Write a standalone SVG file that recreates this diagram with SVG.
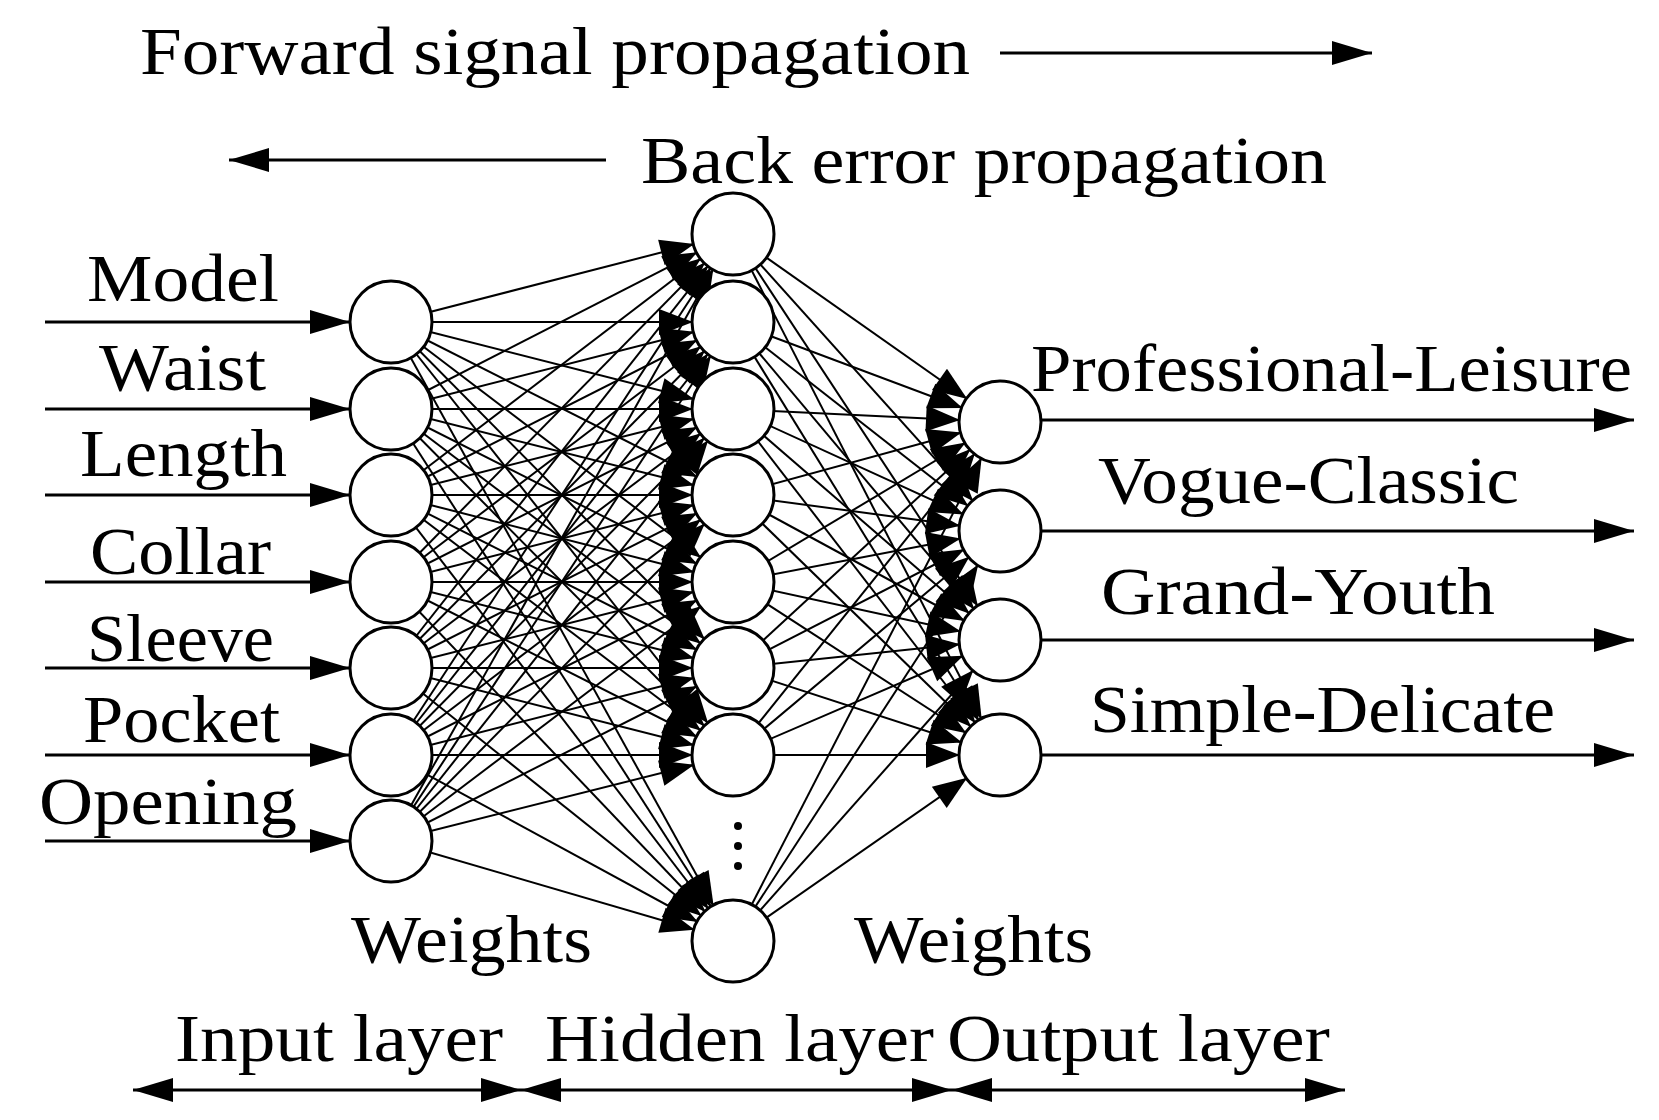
<svg xmlns="http://www.w3.org/2000/svg" width="1659" height="1120" viewBox="0 0 1659 1120">
<style>
text{font-family:"Liberation Serif","DejaVu Serif",serif;font-size:68px;fill:#000}
.c{fill:#fff;stroke:#000;stroke-width:3}
.w line{stroke:#000;stroke-width:2;marker-end:url(#hn)}
.a{stroke:#000;stroke-width:3;marker-end:url(#ah)}
.d{stroke:#000;stroke-width:3;marker-end:url(#ah);marker-start:url(#as)}
</style>
<defs>
<marker id="hn" markerUnits="userSpaceOnUse" markerWidth="80" markerHeight="30" refX="74" refY="13" orient="auto" style="overflow:visible"><path d="M0,0 L34,13 L0,26 z"/></marker>
<marker id="ah" markerUnits="userSpaceOnUse" markerWidth="40" markerHeight="30" refX="40" refY="12" orient="auto" style="overflow:visible"><path d="M0,0 L40,12 L0,24 z"/></marker>
<marker id="as" markerUnits="userSpaceOnUse" markerWidth="40" markerHeight="30" refX="40" refY="12" orient="auto-start-reverse" style="overflow:visible"><path d="M0,0 L40,12 L0,24 z"/></marker>
</defs>
<g id="titles">
<text x="140" y="74" textLength="830" lengthAdjust="spacingAndGlyphs">Forward signal propagation</text>
<line class="a" x1="1000" y1="53" x2="1372" y2="53"/>
<text x="641" y="183" textLength="686" lengthAdjust="spacingAndGlyphs">Back error propagation</text>
<line class="a" x1="606" y1="160" x2="229" y2="160"/>
</g>
<g id="connectors">
<g class="w">
<line x1="391" y1="322" x2="733" y2="234"/><line x1="391" y1="322" x2="733" y2="322"/><line x1="391" y1="322" x2="733" y2="409"/><line x1="391" y1="322" x2="733" y2="495"/><line x1="391" y1="322" x2="733" y2="582"/><line x1="391" y1="322" x2="733" y2="668"/><line x1="391" y1="322" x2="733" y2="755"/><line x1="391" y1="322" x2="733" y2="941"/>
<line x1="391" y1="409" x2="733" y2="234"/><line x1="391" y1="409" x2="733" y2="322"/><line x1="391" y1="409" x2="733" y2="409"/><line x1="391" y1="409" x2="733" y2="495"/><line x1="391" y1="409" x2="733" y2="582"/><line x1="391" y1="409" x2="733" y2="668"/><line x1="391" y1="409" x2="733" y2="755"/><line x1="391" y1="409" x2="733" y2="941"/>
<line x1="391" y1="495" x2="733" y2="234"/><line x1="391" y1="495" x2="733" y2="322"/><line x1="391" y1="495" x2="733" y2="409"/><line x1="391" y1="495" x2="733" y2="495"/><line x1="391" y1="495" x2="733" y2="582"/><line x1="391" y1="495" x2="733" y2="668"/><line x1="391" y1="495" x2="733" y2="755"/><line x1="391" y1="495" x2="733" y2="941"/>
<line x1="391" y1="582" x2="733" y2="234"/><line x1="391" y1="582" x2="733" y2="322"/><line x1="391" y1="582" x2="733" y2="409"/><line x1="391" y1="582" x2="733" y2="495"/><line x1="391" y1="582" x2="733" y2="582"/><line x1="391" y1="582" x2="733" y2="668"/><line x1="391" y1="582" x2="733" y2="755"/><line x1="391" y1="582" x2="733" y2="941"/>
<line x1="391" y1="668" x2="733" y2="234"/><line x1="391" y1="668" x2="733" y2="322"/><line x1="391" y1="668" x2="733" y2="409"/><line x1="391" y1="668" x2="733" y2="495"/><line x1="391" y1="668" x2="733" y2="582"/><line x1="391" y1="668" x2="733" y2="668"/><line x1="391" y1="668" x2="733" y2="755"/><line x1="391" y1="668" x2="733" y2="941"/>
<line x1="391" y1="755" x2="733" y2="234"/><line x1="391" y1="755" x2="733" y2="322"/><line x1="391" y1="755" x2="733" y2="409"/><line x1="391" y1="755" x2="733" y2="495"/><line x1="391" y1="755" x2="733" y2="582"/><line x1="391" y1="755" x2="733" y2="668"/><line x1="391" y1="755" x2="733" y2="755"/><line x1="391" y1="755" x2="733" y2="941"/>
<line x1="391" y1="841" x2="733" y2="234"/><line x1="391" y1="841" x2="733" y2="322"/><line x1="391" y1="841" x2="733" y2="409"/><line x1="391" y1="841" x2="733" y2="495"/><line x1="391" y1="841" x2="733" y2="582"/><line x1="391" y1="841" x2="733" y2="668"/><line x1="391" y1="841" x2="733" y2="755"/><line x1="391" y1="841" x2="733" y2="941"/>
<line x1="733" y1="234" x2="1000" y2="422"/><line x1="733" y1="234" x2="1000" y2="531"/><line x1="733" y1="234" x2="1000" y2="640"/><line x1="733" y1="234" x2="1000" y2="755"/>
<line x1="733" y1="322" x2="1000" y2="422"/><line x1="733" y1="322" x2="1000" y2="531"/><line x1="733" y1="322" x2="1000" y2="640"/><line x1="733" y1="322" x2="1000" y2="755"/>
<line x1="733" y1="409" x2="1000" y2="422"/><line x1="733" y1="409" x2="1000" y2="531"/><line x1="733" y1="409" x2="1000" y2="640"/><line x1="733" y1="409" x2="1000" y2="755"/>
<line x1="733" y1="495" x2="1000" y2="422"/><line x1="733" y1="495" x2="1000" y2="531"/><line x1="733" y1="495" x2="1000" y2="640"/><line x1="733" y1="495" x2="1000" y2="755"/>
<line x1="733" y1="582" x2="1000" y2="422"/><line x1="733" y1="582" x2="1000" y2="531"/><line x1="733" y1="582" x2="1000" y2="640"/><line x1="733" y1="582" x2="1000" y2="755"/>
<line x1="733" y1="668" x2="1000" y2="422"/><line x1="733" y1="668" x2="1000" y2="531"/><line x1="733" y1="668" x2="1000" y2="640"/><line x1="733" y1="668" x2="1000" y2="755"/>
<line x1="733" y1="755" x2="1000" y2="422"/><line x1="733" y1="755" x2="1000" y2="531"/><line x1="733" y1="755" x2="1000" y2="640"/><line x1="733" y1="755" x2="1000" y2="755"/>
<line x1="733" y1="941" x2="1000" y2="422"/><line x1="733" y1="941" x2="1000" y2="531"/><line x1="733" y1="941" x2="1000" y2="640"/><line x1="733" y1="941" x2="1000" y2="755"/>
</g>
<line class="a" x1="45" y1="322" x2="350" y2="322"/>
<line class="a" x1="45" y1="409" x2="350" y2="409"/>
<line class="a" x1="45" y1="495" x2="350" y2="495"/>
<line class="a" x1="45" y1="582" x2="350" y2="582"/>
<line class="a" x1="45" y1="668" x2="350" y2="668"/>
<line class="a" x1="45" y1="755" x2="350" y2="755"/>
<line class="a" x1="45" y1="841" x2="350" y2="841"/>
<line class="a" x1="1041" y1="420" x2="1634" y2="420"/>
<line class="a" x1="1041" y1="531" x2="1634" y2="531"/>
<line class="a" x1="1041" y1="640" x2="1634" y2="640"/>
<line class="a" x1="1041" y1="755" x2="1634" y2="755"/>
<line class="d" x1="133" y1="1090" x2="521" y2="1090"/>
<line class="d" x1="521" y1="1090" x2="952" y2="1090"/>
<line class="d" x1="952" y1="1090" x2="1345" y2="1090"/>
</g>
<g id="input-nodes">
<circle class="c" cx="391" cy="322" r="41"/><circle class="c" cx="391" cy="409" r="41"/><circle class="c" cx="391" cy="495" r="41"/><circle class="c" cx="391" cy="582" r="41"/><circle class="c" cx="391" cy="668" r="41"/><circle class="c" cx="391" cy="755" r="41"/><circle class="c" cx="391" cy="841" r="41"/>
</g>
<g id="hidden-nodes">
<circle class="c" cx="733" cy="234" r="41"/><circle class="c" cx="733" cy="322" r="41"/><circle class="c" cx="733" cy="409" r="41"/><circle class="c" cx="733" cy="495" r="41"/><circle class="c" cx="733" cy="582" r="41"/><circle class="c" cx="733" cy="668" r="41"/><circle class="c" cx="733" cy="755" r="41"/><circle class="c" cx="733" cy="941" r="41"/>
<circle cx="738" cy="826" r="4"/><circle cx="738" cy="846" r="4"/><circle cx="738" cy="866" r="4"/>
</g>
<g id="output-nodes">
<circle class="c" cx="1000" cy="422" r="41"/><circle class="c" cx="1000" cy="531" r="41"/><circle class="c" cx="1000" cy="640" r="41"/><circle class="c" cx="1000" cy="755" r="41"/>
</g>
<g id="labels">
<text x="87" y="301" textLength="192" lengthAdjust="spacingAndGlyphs">Model</text>
<text x="99" y="390" textLength="167" lengthAdjust="spacingAndGlyphs">Waist</text>
<text x="80" y="476" textLength="207" lengthAdjust="spacingAndGlyphs">Length</text>
<text x="90" y="574" textLength="181" lengthAdjust="spacingAndGlyphs">Collar</text>
<text x="87" y="661" textLength="187" lengthAdjust="spacingAndGlyphs">Sleeve</text>
<text x="83" y="742" textLength="197" lengthAdjust="spacingAndGlyphs">Pocket</text>
<text x="39" y="824" textLength="258" lengthAdjust="spacingAndGlyphs">Opening</text>
<text x="1031" y="391" textLength="601" lengthAdjust="spacingAndGlyphs">Professional-Leisure</text>
<text x="1098" y="503" textLength="421" lengthAdjust="spacingAndGlyphs">Vogue-Classic</text>
<text x="1101" y="614" textLength="394" lengthAdjust="spacingAndGlyphs">Grand-Youth</text>
<text x="1090" y="732" textLength="465" lengthAdjust="spacingAndGlyphs">Simple-Delicate</text>
<text x="351" y="962" textLength="241" lengthAdjust="spacingAndGlyphs">Weights</text>
<text x="854" y="962" textLength="239" lengthAdjust="spacingAndGlyphs">Weights</text>
<text x="175" y="1061" textLength="328" lengthAdjust="spacingAndGlyphs">Input layer</text>
<text x="545" y="1061" textLength="389" lengthAdjust="spacingAndGlyphs">Hidden layer</text>
<text x="947" y="1061" textLength="383" lengthAdjust="spacingAndGlyphs">Output layer</text>
</g>
</svg>
